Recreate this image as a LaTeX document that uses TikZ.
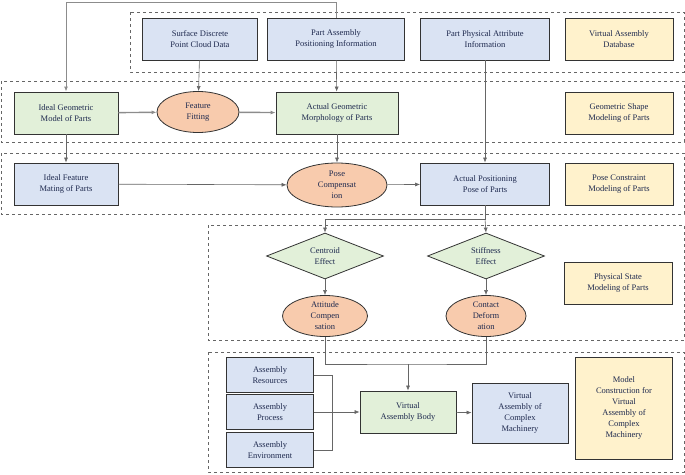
\documentclass[tikz,border=0pt]{standalone}
\usepackage{fontspec}
\setmainfont{Liberation Serif}
\usetikzlibrary{shapes.geometric, arrows.meta}
\definecolor{boxblue}{HTML}{DAE3F3}
\definecolor{boxgreen}{HTML}{E2F0D9}
\definecolor{boxorange}{HTML}{F8CBAD}
\definecolor{boxyellow}{HTML}{FFF2CC}
\definecolor{txtnavy}{HTML}{1F2A4F}
\tikzset{
    every node/.style={font=\fontsize{8.5}{11}\selectfont, text=txtnavy,
        align=center, inner sep=1pt},
    rect/.style={draw=black!80, line width=0.8pt, minimum height=42pt},
    blue/.style={rect, fill=boxblue},
    green/.style={rect, fill=boxgreen},
    yellow/.style={rect, fill=boxyellow, minimum width=108pt},
    oval/.style={ellipse, draw=black!80, line width=0.8pt, fill=boxorange,
        minimum width=82pt, minimum height=41pt, inner sep=0pt},
    dia/.style={diamond, draw=black!80, line width=0.8pt, fill=boxgreen,
        aspect=2.5, minimum width=117pt, minimum height=46pt, inner sep=0pt},
    group/.style={draw=black!60, dashed, line width=0.6pt},
    link/.style={draw=black!60, line width=0.6pt, -{Latex[length=5pt,width=4pt]}},
    fat/.style={draw=black!45, line width=1.4pt, -{Latex[length=5pt,width=4pt]}, fill=black},
}
\begin{document}
\begin{tikzpicture}[x=1pt, y=-1pt]
    \useasboundingbox (0,0) rectangle (685,474);
    % dashed groups
    \draw[group] (130,12) rectangle (684,72);
    \draw[group] (1,81) rectangle (684,142);
    \draw[group] (1,153) rectangle (684,214);
    \draw[group] (208,225) rectangle (684,340);
    \draw[group] (208,352) rectangle (684,472);
    % database row
    \node[blue, minimum width=115pt] (surface) at (200,39) {Surface Discrete\\Point Cloud Data};
    \node[blue, minimum width=137pt] (posinfo) at (336,39) {Part Assembly\\Positioning Information};
    \node[blue, minimum width=129pt] (physinfo) at (485,39) {Part Physical Attribute\\Information};
    \node[yellow] (database) at (619,39) {Virtual Assembly\\Database};
    % geometric row
    \node[green, minimum width=104pt] (idealgeo) at (66,113) {Ideal Geometric\\Model of Parts};
    \node[oval] (fitting) at (198,112) {Feature\\Fitting};
    \node[green, minimum width=122pt] (actualgeo) at (337,113) {Actual Geometric\\Morphology of Parts};
    \node[yellow] (geoshape) at (619,113) {Geometric Shape\\Modeling of Parts};
    % pose row
    \node[blue, minimum width=104pt] (idealmate) at (66,184) {Ideal Feature\\Mating of Parts};
    \node[oval, minimum width=100pt, minimum height=44pt] (posecomp) at (337,185) {Pose\\Compensat\\ion};
    \node[blue, minimum width=129pt] (actualpos) at (485,184) {Actual Positioning\\Pose of Parts};
    \node[yellow] (poseconst) at (619,184) {Pose Constraint\\Modeling of Parts};
    % physical state
    \node[dia] (centroid) at (325,256) {Centroid\\Effect};
    \node[dia] (stiffness) at (486,256) {Stiffness\\Effect};
    \node[yellow] (physstate) at (618,283) {Physical State\\Modeling of Parts};
    \node[oval, minimum width=85pt] (attitude) at (325,316) {Attitude\\Compen\\sation};
    \node[oval, minimum width=80pt] (contact) at (486,316) {Contact\\Deform\\ation};
    % model construction
    \node[blue, minimum width=87pt, minimum height=35pt] (resources) at (270,375) {Assembly\\Resources};
    \node[blue, minimum width=87pt, minimum height=35pt] (process) at (270,412) {Assembly\\Process};
    \node[blue, minimum width=87pt, minimum height=35pt] (environment) at (270,450) {Assembly\\Environment};
    \node[green, minimum width=96pt] (body) at (408,412) {Virtual\\Assembly Body};
    \node[blue, minimum width=96pt, minimum height=60pt] (complex) at (520,413) {Virtual\\Assembly of\\Complex\\Machinery};
    \node[yellow, minimum width=97pt, minimum height=102pt] (modelcons) at (624,408) {Model\\Construction for\\Virtual\\Assembly of\\Complex\\Machinery};
    % connectors
    \coordinate (topturn) at (336,2);
    \draw[link, line width=1pt, draw=black!45] (posinfo.north) -- (topturn) -| (idealgeo.north);
    \draw[link] (surface) -- (fitting);
    \draw[link] (posinfo) -- (actualgeo);
    \draw[link] (physinfo) -- (actualpos);
    \draw[fat] (idealgeo) -- (fitting);
    \draw[fat] (fitting) -- (actualgeo);
    \draw[link] (idealgeo) -- (idealmate);
    \draw[link] (actualgeo) -- (posecomp);
    \draw[link] (idealmate) -- (posecomp);
    \draw[link] (posecomp) -- (actualpos);
    \coordinate (split) at (485,219);
    \draw[link] (actualpos.south) -- (split) -| (centroid.north);
    \draw[link] (split) -- (stiffness.north);
    \draw[link] (centroid) -- (attitude);
    \draw[link] (stiffness) -- (contact);
    \coordinate (merge) at (408,364);
    \draw[draw=black!60, line width=0.6pt] (attitude.south) |- (merge) -| (contact.south);
    \draw[link] (merge) -- (body.north);
    \draw[draw=black!60, line width=0.6pt] (resources.east) -| (332,450) -- (environment.east);
    \draw[link] (process) -- (body);
    \draw[link] (body) -- (complex);
\end{tikzpicture}
\end{document}
